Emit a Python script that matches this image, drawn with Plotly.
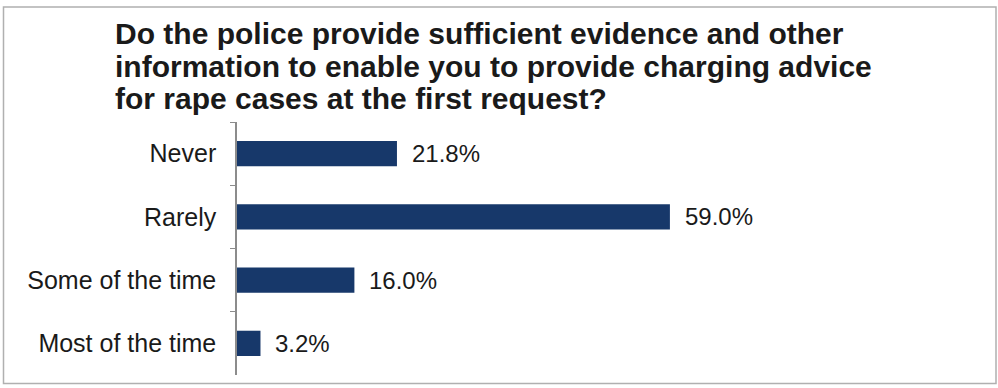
import plotly.graph_objects as go

# Survey responses
categories = ["Never", "Rarely", "Some of the time", "Most of the time"]
shares = [21.8, 59.0, 16.0, 3.2]
value_labels = ["21.8%", "59.0%", "16.0%", "3.2%"]
title_lines = [
    "Do the police provide sufficient evidence and other",
    "information to enable you to provide charging advice",
    "for rape cases at the first request?",
]

W, H = 998, 388
ML, MR, MT, MB = 237, 174, 122, 13
PW, PH = W - ML - MR, H - MT - MB


def px_x(x):
    return (x - ML) / PW


def px_y(y):
    return (H - MB - y) / PH


BAR = "#17386a"
INK = "#1a1a1a"
FONT = "Liberation Sans, Arial, sans-serif"

fig = go.Figure(
    go.Bar(
        x=shares,
        y=categories,
        orientation="h",
        marker=dict(color=BAR, line=dict(width=0)),
        width=0.4,
        hoverinfo="skip",
    )
)

# value labels just past each bar end
for cat, val, lab in zip(categories, shares, value_labels):
    fig.add_annotation(
        x=val, y=cat, xref="x", yref="y", text=lab, showarrow=False,
        xanchor="left", yanchor="middle", xshift=13,
        font=dict(family=FONT, size=24, color=INK),
    )

# three-line bold heading
baselines = [42, 75, 107]
for line, base in zip(title_lines, baselines):
    fig.add_annotation(
        x=px_x(113), y=px_y(base), xref="paper", yref="paper", text=line,
        showarrow=False, xanchor="left", yanchor="bottom", yshift=-10,
        font=dict(family=FONT, size=30, color=INK, weight="bold"),
    )

# chart frame
fig.add_shape(
    type="rect", xref="paper", yref="paper",
    x0=px_x(3.5), x1=px_x(996), y0=px_y(383.5), y1=px_y(7),
    line=dict(color="#b0b0b0", width=1.5), fillcolor="rgba(0,0,0,0)",
    layer="below",
)

fig.update_layout(
    width=W, height=H,
    margin=dict(l=ML, r=MR, t=MT, b=MB, pad=0),
    paper_bgcolor="white", plot_bgcolor="white",
    showlegend=False,
    bargap=0.6,
    xaxis=dict(range=[0, 80], visible=False, fixedrange=True),
    yaxis=dict(
        autorange="reversed", type="category",
        showline=True, linecolor="#8c8c8c", linewidth=1.5,
        ticks="outside", ticklen=5, tickcolor="#8c8c8c", tickwidth=1.2,
        tickson="boundaries", ticklabelstandoff=14,
        showgrid=False, zeroline=False,
        tickfont=dict(family=FONT, size=25, color=INK),
        fixedrange=True,
    ),
)

fig.write_html("out.html", config={"displayModeBar": False})
